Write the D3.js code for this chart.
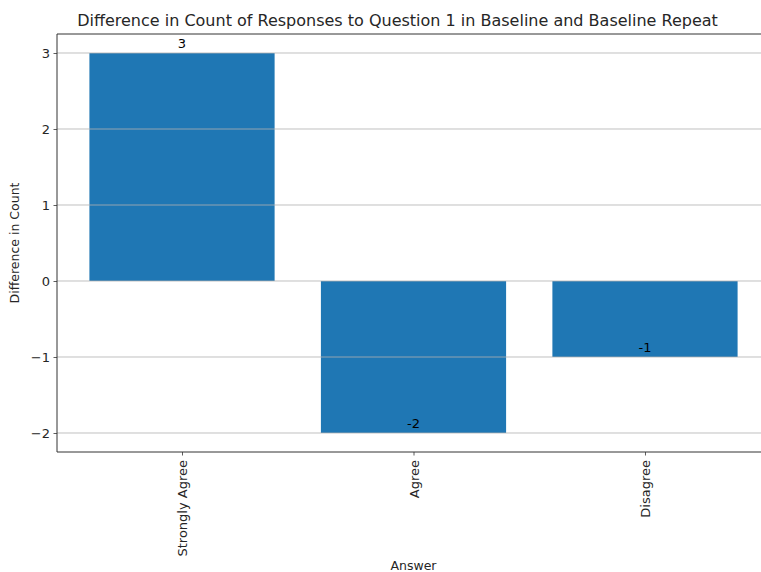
<!DOCTYPE html>
<html><head><meta charset="utf-8">
<script src="https://cdn.jsdelivr.net/npm/d3@7"></script>
<style>body{margin:0;background:#fff}svg{display:block}text{font-family:"DejaVu Sans",sans-serif;fill:#262626}</style>
</head><body>
<svg id="c" width="761" height="572"></svg>
<script>
const categories = ["Strongly Agree", "Agree", "Disagree"];
const values = [3, -2, -1];
const yTicks = [-2, -1, 0, 1, 2, 3];
const title = "Difference in Count of Responses to Question 1 in Baseline and Baseline Repeat";

const svg = d3.select("#c");
const L = 57, R = 770, T = 34, B = 452;
const x = d3.scaleLinear().domain([-0.54, 2.54]).range([L, R]);
const y = d3.scaleLinear().domain([-2.25, 3.25]).range([B, T]);
const bw = x(0.8) - x(0);

// bars
svg.selectAll("rect.bar").data(values).enter().append("rect")
  .attr("x", (d, i) => x(i - 0.4)).attr("width", bw)
  .attr("y", d => y(Math.max(0, d))).attr("height", d => Math.abs(y(d) - y(0)))
  .attr("fill", "#1f77b4");

// grid (above bars)
svg.selectAll("line.grid").data(yTicks).enter().append("line")
  .attr("x1", L).attr("x2", R).attr("y1", d => y(d)).attr("y2", d => y(d))
  .attr("stroke", "#b0b0b0").attr("stroke-opacity", 0.8).attr("stroke-width", 1);

// value labels
svg.selectAll("text.val").data(values).enter().append("text")
  .attr("x", (d, i) => x(i)).attr("y", d => y(d) - 5.5)
  .attr("text-anchor", "middle").attr("font-size", 13).style("fill", "#000")
  .text(d => String(d));

// axes
const yAxis = d3.axisLeft(y).tickValues(yTicks).tickSize(3.5).tickPadding(3.5)
  .tickFormat(d => d < 0 ? "\u2212" + Math.abs(d) : String(d));
const gy = svg.append("g").attr("transform", `translate(${L},0)`).call(yAxis);
const xAxis = d3.axisBottom(x).tickValues([0, 1, 2]).tickSize(3.5).tickPadding(3.5)
  .tickFormat(i => categories[i]);
const gx = svg.append("g").attr("transform", `translate(0,${B})`).call(xAxis);
[gx, gy].forEach(g => {
  g.select(".domain").remove();
  g.selectAll("line").attr("stroke", "#333").attr("stroke-width", 0.8);
  g.selectAll("text").attr("font-size", 13).attr("font-family", "DejaVu Sans").style("fill", "#262626");
});
gx.selectAll("text").attr("transform", "rotate(-90)").attr("text-anchor", "end")
  .attr("x", -8).attr("y", 0).attr("dy", "0.35em");

// spines
svg.append("line").attr("x1", L).attr("x2", L).attr("y1", T).attr("y2", B).attr("stroke", "#333").attr("stroke-width", 1);
svg.append("line").attr("x1", L).attr("x2", R).attr("y1", B).attr("y2", B).attr("stroke", "#333").attr("stroke-width", 1);
svg.append("line").attr("x1", L).attr("x2", R).attr("y1", T).attr("y2", T).attr("stroke", "#333").attr("stroke-width", 1);

// labels
svg.append("text").attr("x", (L + R) / 2 - 16).attr("y", 26).attr("text-anchor", "middle")
  .attr("font-size", 16).text(title);
svg.append("text").attr("x", (L + R) / 2).attr("y", 570).attr("text-anchor", "middle")
  .attr("font-size", 12.5).text("Answer");
svg.append("text").attr("transform", `translate(19,${(T + B) / 2}) rotate(-90)`)
  .attr("text-anchor", "middle").attr("font-size", 12.5).text("Difference in Count");
</script>
</body></html>
